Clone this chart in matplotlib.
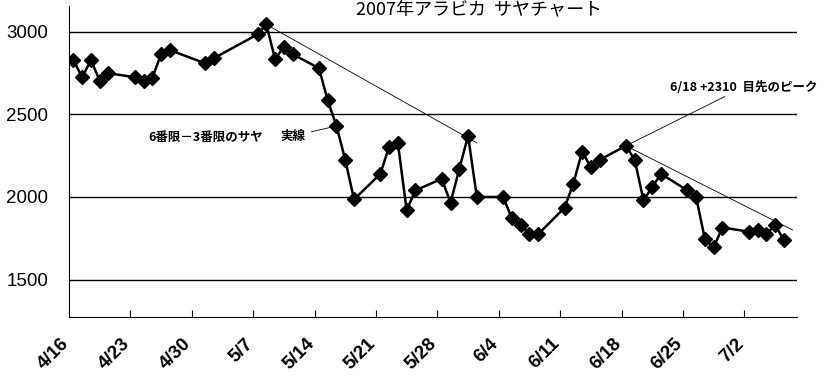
import matplotlib
matplotlib.use("Agg")
import matplotlib.pyplot as plt
import matplotlib.transforms as mtransforms
import pandas as pd

plt.rcParams['font.family'] = ['Noto Sans CJK JP', 'DejaVu Sans']

# 日付とサヤ（6番限－3番限）
dates = ["4/16", "4/17", "4/18", "4/19", "4/20", "4/23", "4/24", "4/25", "4/26", "4/27",
         "5/1", "5/2", "5/7", "5/8", "5/9", "5/10", "5/11", "5/14", "5/15", "5/16",
         "5/17", "5/18", "5/21", "5/22", "5/23", "5/24", "5/25", "5/28", "5/29", "5/30",
         "5/31", "6/1", "6/4", "6/5", "6/6", "6/7", "6/8", "6/11", "6/12", "6/13",
         "6/14", "6/15", "6/18", "6/19", "6/20", "6/21", "6/22", "6/25", "6/26", "6/27",
         "6/28", "6/29", "7/2", "7/3", "7/4", "7/5", "7/6"]
spread = [2830, 2725, 2830, 2705, 2750, 2725, 2705, 2720, 2865, 2890,
          2810, 2840, 2985, 3045, 2835, 2910, 2865, 2780, 2585, 2430,
          2225, 1985, 2140, 2305, 2325, 1920, 2040, 2110, 1965, 2170,
          2370, 2000, 2000, 1870, 1830, 1775, 1775, 1935, 2080, 2275,
          2180, 2225, 2310, 2225, 1980, 2060, 2140, 2040, 2000, 1745,
          1695, 1815, 1790, 1800, 1775, 1830, 1740]

# 週ごとの目盛り
tick_labels = ["4/16", "4/23", "4/30", "5/7", "5/14", "5/21", "5/28",
               "6/4", "6/11", "6/18", "6/25", "7/2"]

# トレンドライン（手書き）
trend1_dates = ["5/8", "6/1"]
trend1_vals = [3045, 2328]
trend2_dates = ["6/18", "7/7"]
trend2_vals = [2310, 1800]


def to_dt(labels):
    return pd.to_datetime(["2007/" + s for s in labels], format="%Y/%m/%d")


half_day = pd.Timedelta(hours=12)
x = to_dt(dates) + half_day

fig = plt.figure(figsize=(8.27, 3.84), dpi=100)
ax = fig.add_axes([0.0834, 0.1745, 0.8803, 0.8095])

for yv in [1500, 2000, 2500, 3000]:
    ax.axhline(yv, color="black", linewidth=1.0, zorder=1)

ax.plot(x, spread, color="black", linewidth=1.8, marker="D", markersize=7, zorder=3)

ax.plot(to_dt(trend1_dates) + half_day, trend1_vals, color="black", linewidth=0.6, zorder=2)
ax.plot(to_dt(trend2_dates) + half_day, trend2_vals, color="black", linewidth=0.6, zorder=2)

ax.set_xlim(pd.Timestamp("2007-04-16"), pd.Timestamp("2007-07-08"))
ax.set_ylim(1273, 3156)

ax.set_yticks([1500, 2000, 2500, 3000])
ax.set_yticklabels(["1500", "2000", "2500", "3000"], family="Liberation Sans", fontsize=13.5)
ax.tick_params(axis="y", length=0, pad=15)

ax.set_xticks(to_dt(tick_labels))
ax.set_xticklabels(tick_labels, rotation=45, ha="right", rotation_mode="anchor",
                   family="Liberation Sans", fontweight="bold", fontsize=13.5)
ax.tick_params(axis="x", direction="in", length=5, pad=13)
shift = mtransforms.ScaledTranslation(-9 / 100, 0, fig.dpi_scale_trans)
for lab in ax.get_xticklabels():
    lab.set_transform(lab.get_transform() + shift)

for s in ["top", "right"]:
    ax.spines[s].set_visible(False)

# 注記
fig.text(0.579, 0.975, "2007年アラビカ  サヤチャート", ha="center", va="center", fontsize=13)
ax.text(pd.Timestamp("2007-04-25"), 2360, "6番限－3番限のサヤ", fontsize=9,
        fontweight="bold", va="center")
ax.annotate("実線", xy=(x[19], 2430), xytext=(pd.Timestamp("2007-05-10T04"), 2370),
            fontsize=9, fontweight="bold", va="center",
            arrowprops=dict(arrowstyle="-", color="black", linewidth=0.6))
ax.annotate("6/18 +2310  目先のピーク", xy=(x[42], 2310),
            xytext=(pd.Timestamp("2007-06-23T12"), 2665),
            fontsize=9, fontweight="bold", va="center",
            arrowprops=dict(arrowstyle="-", color="black", linewidth=0.6, shrinkA=0))

fig.savefig("out.png", dpi=100)
